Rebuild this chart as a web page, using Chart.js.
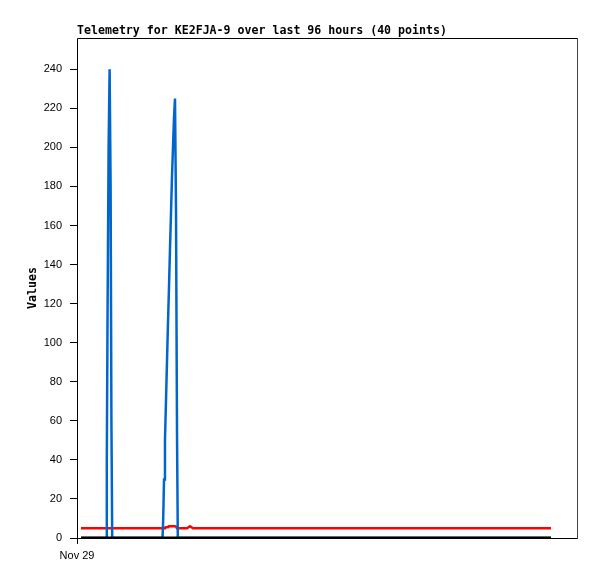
<!DOCTYPE html>
<html>
<head>
<meta charset="utf-8">
<script src="https://cdn.jsdelivr.net/npm/chart.js@4/dist/chart.umd.min.js"></script>
<style>
  html, body { margin: 0; padding: 0; background: #fff; }
  #wrap { width: 597px; height: 579px; }
</style>
</head>
<body>
<div id="wrap"><canvas id="telemetryChart" width="597" height="579"></canvas></div>
<script>
// hours since Nov 29 00:00 (axis start)
const hours = [
    0.80, 5.79, 5.95, 6.11, 6.31, 6.51, 6.71, 6.87, 7.03, 17.07,
    17.21, 17.37, 17.56, 17.76, 17.96, 18.16, 18.36, 18.56, 18.76, 18.96,
    19.16, 19.36, 19.56, 19.76, 19.96, 20.12, 21.36, 21.96, 22.55, 23.15,
    23.75, 32.53, 42.51, 52.50, 62.48, 72.46, 82.44, 88.42, 92.42, 94.61
];

const blueValues = [
    0, 0, 40, 120, 200, 240, 180, 60, 0, 0,
    10, 30, 50, 70, 90, 110, 128, 148, 166, 185,
    200, 215, 225, 168, 55, 0, 0, 0, 0, 0,
    0, 0, 0, 0, 0, 0, 0, 0, 0, 0
];

const redValues = [
    5, 5, 5, 5, 5, 5, 5, 5, 5, 5,
    5, 5, 5.3, 5.5, 5.5, 5.5, 6, 6, 6, 6,
    6, 6, 6, 5.8, 5, 5, 5, 5, 6, 5,
    5, 5, 5, 5, 5, 5, 5, 5, 5, 5
];

const blackValues = [
    0, 0, 0, 0, 0, 0, 0, 0, 0, 0,
    0, 0, 0, 0, 0, 0, 0, 0, 0, 0,
    0, 0, 0, 0, 0, 0, 0, 0, 0, 0,
    0, 0, 0, 0, 0, 0, 0, 0, 0, 0
];

const xTickHours = [0];
const xTickLabels = ['Nov 29'];

const chartTitle = 'Telemetry for KE2FJA-9 over last 96 hours (40 points)';
const yAxisTitle = 'Values';

function toPoints(values) {
    return values.map((v, i) => ({ x: hours[i], y: v }));
}

const monoBold = 'bold 11.6px "DejaVu Sans Mono", monospace';

// frame + titles drawn around the plot area
const framePlugin = {
    id: 'frame',
    afterDraw(chart) {
        const ctx = chart.ctx;
        const a = chart.chartArea;
        ctx.save();
        ctx.lineWidth = 1;
        ctx.strokeStyle = '#000';
        ctx.beginPath();
        ctx.moveTo(a.left + 0.5, a.bottom + 0.5);
        ctx.lineTo(a.left + 0.5, a.top + 0.5);
        ctx.lineTo(a.right - 0.5, a.top + 0.5);
        ctx.stroke();
        ctx.beginPath();
        ctx.moveTo(a.left, a.bottom + 0.5);
        ctx.lineTo(a.right, a.bottom + 0.5);
        ctx.stroke();
        ctx.strokeStyle = '#444';
        ctx.beginPath();
        ctx.moveTo(a.right - 0.5, a.top);
        ctx.lineTo(a.right - 0.5, a.bottom + 1);
        ctx.stroke();

        ctx.fillStyle = '#000';
        ctx.font = monoBold;
        ctx.textAlign = 'left';
        ctx.textBaseline = 'alphabetic';
        ctx.fillText(chartTitle, a.left, a.top - 4);

        ctx.translate(36, (a.top + a.bottom) / 2);
        ctx.rotate(-Math.PI / 2);
        ctx.textAlign = 'center';
        ctx.fillText(yAxisTitle, 0, 0);
        ctx.restore();
    }
};

new Chart(document.getElementById('telemetryChart').getContext('2d'), {
    type: 'line',
    data: {
        datasets: [
            {
                data: toPoints(blackValues),
                borderColor: '#000000',
                borderWidth: 3,
                order: 0
            },
            {
                data: toPoints(blueValues),
                borderColor: '#0066cc',
                borderWidth: 2.5,
                order: 1
            },
            {
                data: toPoints(redValues),
                borderColor: '#ff0000',
                borderWidth: 2.5,
                order: 2
            }
        ]
    },
    options: {
        responsive: false,
        animation: false,
        layout: { padding: { top: 38, right: 19, bottom: 0, left: 0 } },
        elements: {
            point: { radius: 0 },
            line: { tension: 0, borderJoinStyle: 'miter' }
        },
        plugins: {
            legend: { display: false },
            title: { display: false },
            tooltip: { enabled: false }
        },
        scales: {
            x: {
                type: 'linear',
                min: 0,
                max: 100,
                afterFit: (scale) => { scale.height = 41; },
                afterBuildTicks: (scale) => {
                    scale.ticks = xTickHours.map(v => ({ value: v }));
                },
                ticks: {
                    autoSkip: false,
                    maxRotation: 0,
                    padding: 5,
                    color: '#000',
                    font: { family: '"Liberation Sans", Arial, sans-serif', size: 11 },
                    callback: (v) => {
                        const i = xTickHours.indexOf(v);
                        return i >= 0 ? xTickLabels[i] : '';
                    }
                },
                grid: { drawOnChartArea: false, drawTicks: true, tickLength: 6, color: '#000' },
                border: { display: false }
            },
            y: {
                min: 0,
                max: 256,
                afterFit: (scale) => { scale.width = 77; },
                afterBuildTicks: (scale) => {
                    scale.ticks = scale.ticks.filter(t => t.value % 20 === 0);
                },
                ticks: {
                    stepSize: 20,
                    padding: 8,
                    color: '#000',
                    font: { family: '"Liberation Sans", Arial, sans-serif', size: 11 }
                },
                grid: { drawOnChartArea: false, drawTicks: true, tickLength: 7, color: '#000' },
                border: { display: false }
            }
        }
    },
    plugins: [framePlugin]
});
</script>
</body>
</html>
